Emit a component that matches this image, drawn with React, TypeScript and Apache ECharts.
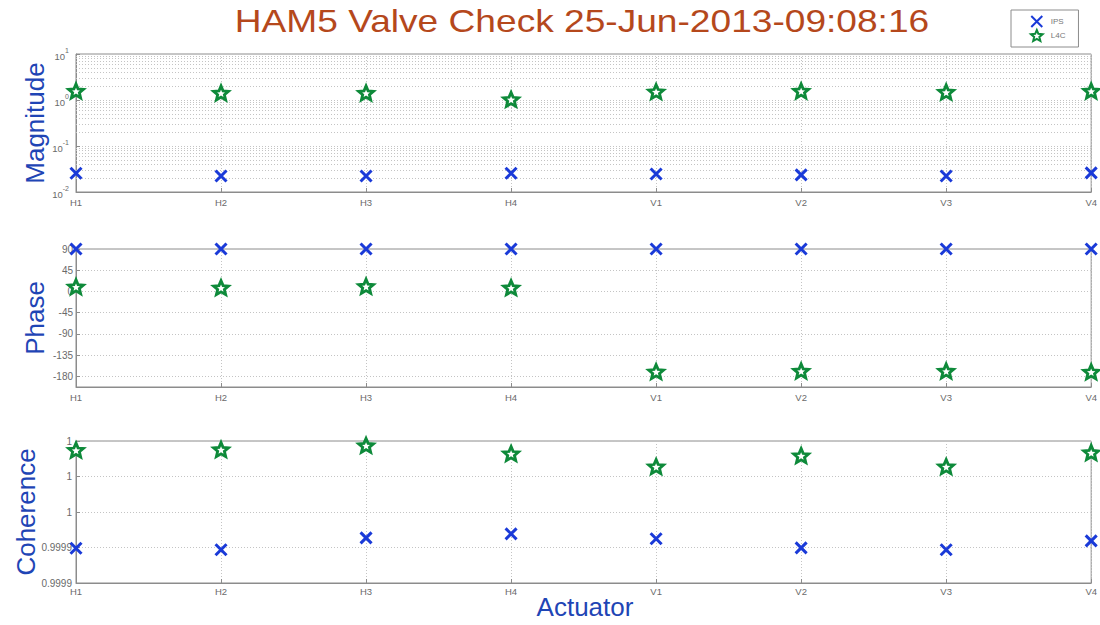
import React, { useEffect, useRef } from 'react';
import * as echarts from 'echarts';

// ---- data ----
const actuators = ['H1', 'H2', 'H3', 'H4', 'V1', 'V2', 'V3', 'V4'];
const magnitudeIPS = [0.0255, 0.0223, 0.0223, 0.0255, 0.0246, 0.0235, 0.0223, 0.026];
const magnitudeL4C = [1.57, 1.42, 1.42, 1.03, 1.52, 1.57, 1.49, 1.57];
const phaseIPS = [90, 90, 90, 90, 90, 90, 90, 90];
const phaseL4C = [10, 8, 11, 8, -170, -168.5, -168.5, -170.5];
const coherenceIPS = [0.9999396, 0.9999387, 0.9999454, 0.9999477, 0.9999449, 0.9999398, 0.9999387, 0.9999437];
const coherenceL4C = [0.9999949, 0.9999952, 0.9999975, 0.9999929, 0.9999856, 0.9999918, 0.9999856, 0.9999935];
const phaseTicks = [-180, -135, -90, -45, 0, 45, 90];
const magnitudeMinorGrid = [
  0.02, 0.03, 0.04, 0.05, 0.06, 0.07, 0.08, 0.09,
  0.2, 0.3, 0.4, 0.5, 0.6, 0.7, 0.8, 0.9,
  2, 3, 4, 5, 6, 7, 8, 9,
];
const titleText = 'HAM5 Valve Check 25-Jun-2013-09:08:16';
const legendNames = ['IPS', 'L4C'];

const FONT = '"Liberation Sans", Arial, Helvetica, sans-serif';
const BLUE = '#1a3ad8';
const GREEN = '#0e8a3a';
const AXIS = '#8c8c8c';
const GRID = '#c4c4c4';
const LABEL = '#6a6a6a';
const NAME = '#1f45b5';
const TITLE = '#b5481c';

const X_PATH = 'path://M0,0L10,10M10,0L0,10';
const STAR_PATH =
  'path://M10,0L12.645,6.359L19.511,6.91L14.28,11.391L15.878,18.09L10,14.5L4.122,18.09L5.72,11.391L0.489,6.91L7.355,6.359Z';

const GRIDS = [
  { left: 76, top: 54, width: 1019, height: 138 },
  { left: 76, top: 249, width: 1019, height: 138 },
  { left: 76, top: 441, width: 1019, height: 142 },
];

function markerSeries(name: string, data: number[], idx: number, extra: any = {}) {
  const isIPS = name === 'IPS';
  return {
    type: 'scatter',
    name,
    data,
    xAxisIndex: idx,
    yAxisIndex: idx,
    symbol: isIPS ? X_PATH : STAR_PATH,
    symbolSize: isIPS ? [11, 11] : [15, 14],
    itemStyle: isIPS
      ? { color: BLUE, borderColor: BLUE, borderWidth: 3, opacity: 1 }
      : { color: '#ffffff', borderColor: GREEN, borderWidth: 2.8, opacity: 1 },
    clip: false,
    silent: true,
    z: 3,
    ...extra,
  };
}

function xAxis(idx: number, margin: number) {
  return {
    type: 'category',
    gridIndex: idx,
    data: actuators,
    boundaryGap: false,
    axisLine: { onZero: false, lineStyle: { color: AXIS } },
    axisTick: { inside: true, length: 4, interval: 0, lineStyle: { color: AXIS } },
    axisLabel: { color: LABEL, fontSize: 9.5, margin, interval: 0, fontFamily: FONT },
    splitLine: { show: true, interval: 0, lineStyle: { color: GRID, type: [1, 2] } },
  };
}

export default function App() {
  const ref = useRef<HTMLDivElement>(null);
  useEffect(() => {
    if (!ref.current) return;
    const chart = echarts.init(ref.current, undefined, { renderer: 'svg' });
    const yBase = {
      axisLine: { show: true, onZero: false, lineStyle: { color: AXIS } },
      axisTick: { show: true, inside: true, length: 4, lineStyle: { color: AXIS } },
      splitLine: { show: true, lineStyle: { color: GRID, type: [1, 2] } },
    };
    chart.setOption({
      animation: false,
      backgroundColor: '#ffffff',
      textStyle: { fontFamily: FONT },
      grid: GRIDS.map((g) => ({ ...g, show: true, borderColor: AXIS, borderWidth: 1, backgroundColor: 'transparent' })),
      xAxis: [xAxis(0, 5), xAxis(1, 5), xAxis(2, 3)],
      yAxis: [
        {
          ...yBase,
          type: 'log',
          gridIndex: 0,
          logBase: 10,
          min: 0.01,
          max: 10,
          axisLabel: {
            margin: 7,
            color: LABEL,
            fontFamily: FONT,
            formatter: (v: number) => `{b|10}{s|${Math.round(Math.log10(v))}}`,
            rich: {
              b: { fontSize: 9.5, color: LABEL, padding: [4, 0, 0, 0], fontFamily: FONT },
              s: { fontSize: 7, color: LABEL, verticalAlign: 'top', fontFamily: FONT },
            },
          },
        },
        {
          ...yBase,
          type: 'value',
          gridIndex: 1,
          min: -202.5,
          max: 90,
          interval: 22.5,
          axisTick: { ...yBase.axisTick, customValues: phaseTicks },
          axisLabel: { customValues: phaseTicks, margin: 3, color: LABEL, fontSize: 10, fontFamily: FONT },
        },
        {
          ...yBase,
          type: 'value',
          gridIndex: 2,
          min: 0.99992,
          max: 1,
          interval: 0.00002,
          axisLabel: {
            margin: 4,
            color: LABEL,
            fontSize: 10,
            fontFamily: FONT,
            formatter: (v: number) => String(Number(v.toPrecision(4))),
          },
        },
      ],
      legend: {
        orient: 'vertical',
        left: 1011,
        top: 10,
        padding: [5, 13, 5, 19],
        itemGap: 1,
        itemWidth: 12,
        itemHeight: 11,
        borderColor: AXIS,
        borderWidth: 1,
        selectedMode: false,
        textStyle: { fontSize: 8, color: '#777', fontFamily: FONT, padding: [0, 0, 0, 3] },
        data: [
          { name: legendNames[0], icon: X_PATH },
          { name: legendNames[1], icon: STAR_PATH },
        ],
      },
      series: [
        markerSeries('IPS', magnitudeIPS, 0, {
          markLine: {
            silent: true,
            symbol: ['none', 'none'],
            z: 1,
            label: { show: false },
            emphasis: { disabled: true },
            lineStyle: { color: GRID, width: 1, type: [1, 2], opacity: 1 },
            data: magnitudeMinorGrid.map((v) => ({ yAxis: v })),
          },
        }),
        markerSeries('L4C', magnitudeL4C, 0),
        markerSeries('IPS', phaseIPS, 1),
        markerSeries('L4C', phaseL4C, 1),
        markerSeries('IPS', coherenceIPS, 2),
        markerSeries('L4C', coherenceL4C, 2),
      ],
      graphic: [
        {
          type: 'text',
          x: 582,
          y: 21,
          scaleX: 1.16,
          style: { text: titleText, align: 'center', verticalAlign: 'middle', fontSize: 32, fill: TITLE, fontFamily: FONT },
        },
        {
          type: 'text',
          x: 35,
          y: 123,
          rotation: Math.PI / 2,
          style: { text: 'Magnitude', align: 'center', verticalAlign: 'middle', fontSize: 26, fill: NAME, fontFamily: FONT },
        },
        {
          type: 'text',
          x: 35,
          y: 318,
          rotation: Math.PI / 2,
          style: { text: 'Phase', align: 'center', verticalAlign: 'middle', fontSize: 26, fill: NAME, fontFamily: FONT },
        },
        {
          type: 'text',
          x: 26,
          y: 512,
          rotation: Math.PI / 2,
          style: { text: 'Coherence', align: 'center', verticalAlign: 'middle', fontSize: 26, fill: NAME, fontFamily: FONT },
        },
        {
          type: 'text',
          x: 585,
          y: 607,
          style: { text: 'Actuator', align: 'center', verticalAlign: 'middle', fontSize: 26, fill: NAME, fontFamily: FONT },
        },
      ],
    });
    return () => chart.dispose();
  }, []);
  return <div ref={ref} style={{ position: 'fixed', left: 0, top: 0, width: 1100, height: 625, background: '#fff' }} />;
}
